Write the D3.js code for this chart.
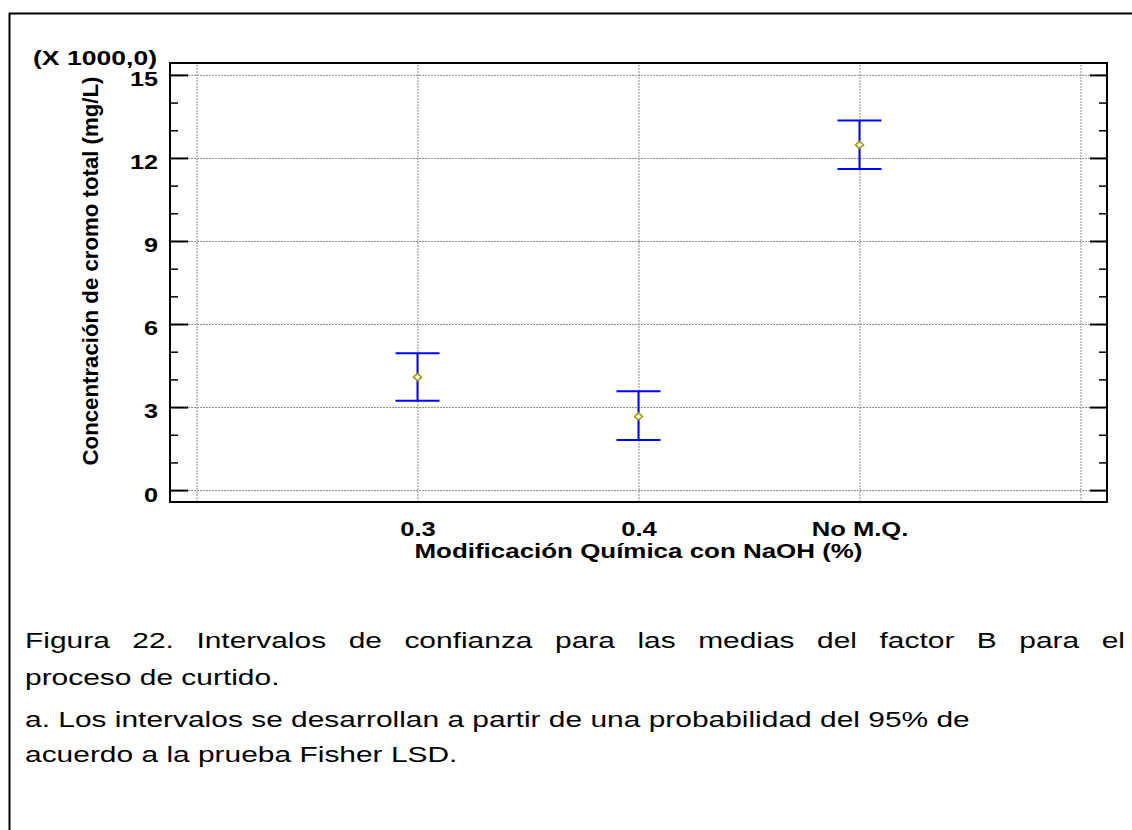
<!DOCTYPE html>
<html>
<head>
<meta charset="utf-8">
<script src="https://d3js.org/d3.v7.min.js"></script>
<style>
  body { margin: 0; background: #fff; }
  .chart text { font-family: "Liberation Sans", Arial, sans-serif; }
  .bold text, text.bold { font-weight: bold; font-size: 21px; fill: #000; }
  .caption { font-size: 22.5px; fill: #000; }
</style>
</head>
<body>
<div class="chart"></div>
<script>
// Data (values in thousands of mg/L)
var categories = ["0.3", "0.4", "No M.Q."];
var means = [4.08, 2.66, 12.47];
var lowerLimits = [3.23, 1.81, 11.60];
var upperLimits = [4.94, 3.57, 13.35];

var majorTicks = [0, 3, 6, 9, 12, 15];
var minorTicks = [1, 2, 4, 5, 7, 8, 10, 11, 13, 14];
var gridPositions = [0, 1, 2, 3, 4];

var captionLines = [
    "Figura 22. Intervalos de confianza para las medias del factor B para el",
    "proceso de curtido.",
    "a. Los intervalos se desarrollan a partir de una probabilidad del 95% de",
    "acuerdo a la prueba Fisher LSD."
];

var svgWidth = 1132;
var svgHeight = 830;

// the source picture is stretched sideways, so text is widened too
var textStretch = 1.2;
var captionStretch = 1.33;

// plot frame
var frame = {left: 170, right: 1107, top: 63, bottom: 502};

var svg = d3.select(".chart")
    .append("svg")
    .attr("width", svgWidth)
    .attr("height", svgHeight);

// outer border of the figure
svg.append("line")
    .attr("x1", 9).attr("x2", svgWidth)
    .attr("y1", 13.5).attr("y2", 13.5)
    .attr("stroke", "#000").attr("stroke-width", 2);
svg.append("line")
    .attr("x1", 9.5).attr("x2", 9.5)
    .attr("y1", 13).attr("y2", svgHeight)
    .attr("stroke", "#000").attr("stroke-width", 2);

// scales: categories sit on positions 1..3, grid on 0..4
var xScale = d3.scaleLinear().domain([-0.12, 4.12]).range([frame.left, frame.right]);
var yScale = d3.scaleLinear().domain([-0.43, 15.43]).range([frame.bottom, frame.top]);

var chart = svg.append("g");

//////////////////////////////////////////////////////////////////
// Gridlines
//////////////////////////////////////////////////////////////////
var yGrid = chart.append("g")
    .attr("transform", "translate(" + frame.left + ",0)")
    .call(d3.axisLeft(yScale).tickValues(majorTicks).tickSize(-(frame.right - frame.left)).tickFormat(""));
var xGrid = chart.append("g")
    .attr("transform", "translate(0," + frame.bottom + ")")
    .call(d3.axisBottom(xScale).tickValues(gridPositions).tickSize(-(frame.bottom - frame.top)).tickFormat(""));

[yGrid, xGrid].forEach(function(g) {
    g.select(".domain").remove();
    g.selectAll("line")
        .attr("stroke", "#8c8c8c")
        .attr("stroke-width", 1)
        .attr("stroke-dasharray", "2,1");
});

//////////////////////////////////////////////////////////////////
// Ticks (inward) on left and right
//////////////////////////////////////////////////////////////////
var leftAxis = chart.append("g")
    .attr("class", "bold")
    .attr("transform", "translate(" + frame.left + ",0)")
    .call(d3.axisLeft(yScale).tickValues(majorTicks).tickSize(-18).tickPadding(10));
leftAxis.selectAll("text")
    .attr("dy", "0.52em")
    .attr("transform", "scale(" + textStretch + ",1)");

var leftMinor = chart.append("g")
    .attr("transform", "translate(" + frame.left + ",0)")
    .call(d3.axisLeft(yScale).tickValues(minorTicks).tickSize(-8).tickFormat(""));

var rightAxis = chart.append("g")
    .attr("transform", "translate(" + frame.right + ",0)")
    .call(d3.axisRight(yScale).tickValues(majorTicks).tickSize(-17).tickFormat(""));

var rightMinor = chart.append("g")
    .attr("transform", "translate(" + frame.right + ",0)")
    .call(d3.axisRight(yScale).tickValues(minorTicks).tickSize(-8).tickFormat(""));

[leftAxis, rightAxis].forEach(function(g) {
    g.select(".domain").remove();
    g.selectAll("line").attr("stroke", "#000").attr("stroke-width", 2);
});
[leftMinor, rightMinor].forEach(function(g) {
    g.select(".domain").remove();
    g.selectAll("line").attr("stroke", "#000").attr("stroke-width", 1.5);
});

// category labels on the bottom
var bottomAxis = chart.append("g")
    .attr("class", "bold")
    .attr("transform", "translate(0," + frame.bottom + ")")
    .call(d3.axisBottom(xScale)
        .tickValues([1, 2, 3])
        .tickSize(0)
        .tickPadding(19)
        .tickFormat(function(d) { return categories[d - 1]; }));
bottomAxis.select(".domain").remove();
bottomAxis.selectAll("text").attr("transform", "scale(1.22,1)");

// frame
chart.append("rect")
    .attr("x", frame.left).attr("y", frame.top)
    .attr("width", frame.right - frame.left).attr("height", frame.bottom - frame.top)
    .attr("fill", "none")
    .attr("stroke", "#000")
    .attr("stroke-width", 2);

//////////////////////////////////////////////////////////////////
// Confidence intervals
//////////////////////////////////////////////////////////////////
var capHalf = 22;
var bars = chart.selectAll(".interval")
    .data(categories)
    .enter().append("g")
    .attr("class", "interval");

bars.append("line")
    .attr("x1", function(d, i) { return xScale(i + 1); })
    .attr("x2", function(d, i) { return xScale(i + 1); })
    .attr("y1", function(d, i) { return yScale(upperLimits[i]); })
    .attr("y2", function(d, i) { return yScale(lowerLimits[i]); })
    .attr("stroke", "#0000ff").attr("stroke-width", 2);

bars.append("line")
    .attr("x1", function(d, i) { return xScale(i + 1) - capHalf; })
    .attr("x2", function(d, i) { return xScale(i + 1) + capHalf; })
    .attr("y1", function(d, i) { return yScale(upperLimits[i]); })
    .attr("y2", function(d, i) { return yScale(upperLimits[i]); })
    .attr("stroke", "#0000ff").attr("stroke-width", 2);

bars.append("line")
    .attr("x1", function(d, i) { return xScale(i + 1) - capHalf; })
    .attr("x2", function(d, i) { return xScale(i + 1) + capHalf; })
    .attr("y1", function(d, i) { return yScale(lowerLimits[i]); })
    .attr("y2", function(d, i) { return yScale(lowerLimits[i]); })
    .attr("stroke", "#0000ff").attr("stroke-width", 2);

// mean marker: small hollow diamond
bars.append("path")
    .attr("d", "M-4,0L0,-3.6L4,0L0,3.6Z")
    .attr("transform", function(d, i) {
        return "translate(" + xScale(i + 1) + "," + yScale(means[i]) + ")";
    })
    .attr("fill", "#fff")
    .attr("stroke", "#9a9a00")
    .attr("stroke-width", 1.5);

//////////////////////////////////////////////////////////////////
// Axis titles
//////////////////////////////////////////////////////////////////
chart.append("text")
    .attr("class", "bold")
    .attr("x", 33).attr("y", 65)
    .attr("textLength", 124)
    .attr("lengthAdjust", "spacingAndGlyphs")
    .text("(X 1000,0)");

chart.append("text")
    .attr("class", "bold")
    .attr("text-anchor", "middle")
    .attr("x", xScale(2)).attr("y", 558)
    .attr("textLength", 448)
    .attr("lengthAdjust", "spacingAndGlyphs")
    .text("Modificación Química con NaOH (%)");

chart.append("text")
    .attr("class", "bold")
    .style("font-size", "22px")
    .attr("text-anchor", "middle")
    .attr("transform", "translate(98,271) rotate(-90)")
    .attr("textLength", 389)
    .attr("lengthAdjust", "spacingAndGlyphs")
    .text("Concentración de cromo total (mg/L)");

//////////////////////////////////////////////////////////////////
// Caption below the figure (first line justified with word spacing)
//////////////////////////////////////////////////////////////////
var captionY = [648, 685, 727, 762];
var captionLeft = 25, captionRight = 1125;
var caption = svg.selectAll(".caption")
    .data(captionLines)
    .enter().append("text")
    .attr("class", "caption")
    .attr("transform", function(d, i) {
        return "translate(" + captionLeft + "," + captionY[i] + ") scale(" + captionStretch + ",1)";
    })
    .text(function(d) { return d; });

caption.filter(function(d, i) { return i === 0; })
    .each(function(d) {
        var natural = this.getComputedTextLength();
        var spaces = d.split(" ").length - 1;
        var target = (captionRight - captionLeft) / captionStretch;
        var extra = Math.max(0, (target - natural) / spaces);
        d3.select(this).style("word-spacing", extra + "px");
    });
</script>
</body>
</html>
